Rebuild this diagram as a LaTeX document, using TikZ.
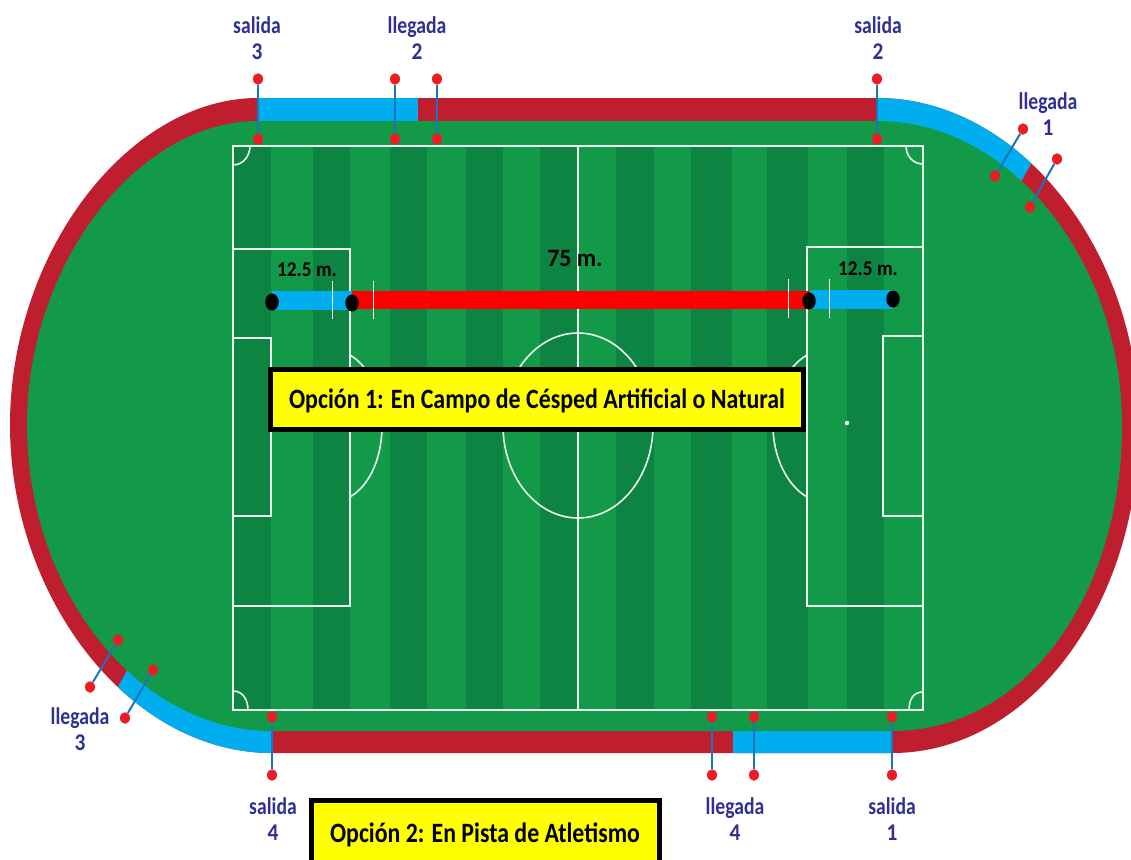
\documentclass[tikz,border=0pt]{standalone}
\usepackage{fontspec}
\setmainfont{Carlito}
\usetikzlibrary{shapes.geometric}
\definecolor{grasslight}{RGB}{18,154,73}
\definecolor{grassdark}{RGB}{14,132,67}
\definecolor{trackred}{RGB}{190,30,45}
\definecolor{trackblue}{RGB}{0,174,239}
\definecolor{labelblue}{RGB}{46,49,146}
\definecolor{pinline}{RGB}{27,117,188}
\definecolor{pinred}{RGB}{237,28,36}
\definecolor{boxyellow}{RGB}{255,255,0}
\definecolor{barred}{RGB}{255,0,0}
\newcommand{\cond}[2]{\scalebox{#1}[1]{#2}}
\tikzset{
  pin dot/.style={shape=ellipse,fill=pinred,draw=none,minimum width=10pt,minimum height=11.5pt,inner sep=0pt},
  pin line/.style={draw=pinline,line width=2pt},
  pitch line/.style={draw=white!92!grasslight,line width=1.6pt},
  black dot/.style={shape=ellipse,fill=black,draw=none,minimum width=13.5pt,minimum height=17pt,inner sep=0pt},
  tick line/.style={draw=white,line width=1pt},
  place label/.style={text=labelblue,font=\fontsize{24}{26}\selectfont\bfseries,align=center,inner sep=0pt},
  dim label/.style={text=black,font=\fontsize{21}{24}\selectfont\bfseries,inner sep=0pt},
  option box/.style={fill=boxyellow,draw=black,line width=5pt,inner sep=0pt,font=\fontsize{28}{32}\selectfont\bfseries,text=black}
}
\newcommand{\outerpath}{(258,98) -- (877,98) .. controls (1021,98) and (1139,253) .. (1139,425) .. controls (1139,606) and (1029,753) .. (892,753) -- (272,753) .. controls (128,753) and (10,596) .. (10,425) .. controls (10,253) and (128,98) .. (258,98) -- cycle}
\newcommand{\innerpath}{(258,121) -- (877,121) .. controls (1012,121) and (1122,262) .. (1122,425) .. controls (1122,593) and (1027,731) .. (892,731) -- (272,731) .. controls (137,731) and (27,590) .. (27,425) .. controls (27,265) and (137,121) .. (258,121) -- cycle}
\begin{document}
\begin{tikzpicture}[x=1pt,y=-1pt]
\useasboundingbox (0,0) rectangle (1131,859);
\fill[white] (0,0) rectangle (1131,859);
\begin{scope}
\clip (0,0) rectangle (1131,859);
% track
\fill[trackred] \outerpath;
\begin{scope}
\clip \outerpath;
\fill[trackblue] (258,90) rectangle (418,125);
\fill[trackblue] (733,725) rectangle (892,760);
\fill[trackblue] (877,60) -- (1092,60) -- (1003,212) -- (877,212) -- cycle;
\fill[trackblue] (272,800) -- (56,800) -- (170,592) -- (272,592) -- cycle;
\end{scope}
\fill[grasslight] \innerpath;
% stripes
\foreach \a/\b in {233/271,313/350,390/427,466/503,540/578,616/654,691/732,767/808,847/884}
  \fill[grassdark] (\a,146) rectangle (\b,710);
% pitch
\draw[pitch line] (233,146) rectangle (923,710);
\draw[pitch line] (578,146) -- (578,710);
\draw[pitch line] (233,249) rectangle (350,606);
\draw[pitch line] (807,247) rectangle (923,606);
\draw[pitch line] (233,338) rectangle (271,516);
\draw[pitch line] (883,336) rectangle (923,516);
\draw[pitch line] (578,425.5) ellipse [x radius=75,y radius=92.5];
\draw[pitch line] (350,355) .. controls (372,368) and (382,398) .. (382,426) .. controls (382,454) and (372,484) .. (350,497);
\draw[pitch line] (807,355) .. controls (785,368) and (773,398) .. (773,426) .. controls (773,454) and (785,484) .. (807,497);
\draw[pitch line] (250,146) .. controls (250,156) and (243,165) .. (233,165);
\draw[pitch line] (906,146) .. controls (906,156) and (913,164) .. (923,164);
\draw[pitch line] (248,710) .. controls (248,700) and (243,691) .. (233,691);
\draw[pitch line] (909,710) .. controls (909,700) and (913,692) .. (923,692);
\fill[white] (847,423) circle (2.2);
\end{scope}
% distance bars
\fill[trackblue] (272,291) rectangle (352,310);
\fill[trackblue] (810,290) rectangle (893,309);
\fill[barred] (352,291) rectangle (810,309);
\draw[tick line] (332,281) -- (332,319);
\draw[tick line] (373,281) -- (373,319);
\draw[tick line] (788,279) -- (788,318);
\draw[tick line] (829,279) -- (829,318);
\node[black dot] (d1) at (272,302) {};
\node[black dot] (d2) at (352,303) {};
\node[black dot] (d3) at (809,301) {};
\node[black dot] (d4) at (893,299) {};
\node[dim label] (m1) at (307,270) {\cond{.92}{12.5 m.}};
\node[dim label] (m2) at (868,269) {\cond{.92}{12.5 m.}};
\node[dim label,font=\fontsize{25}{28}\selectfont\bfseries] (m3) at (575,258) {\cond{.95}{75 m.}};
% pins
\foreach \n/\xa/\ya/\xb/\yb in {a/258/79/258/139,b/395/79/395/139,c/437/79/437/139,e/877/79/877/139,
   f/1023/129/995/176,g/1057/159/1030/207,h/118/640/90/687,i/153/670/125/718,
   j/272/717/272/775,k/712/717/712/775,l/754/717/754/775,n/892/717/892/775}{
  \node[pin dot] (\n1) at (\xa,\ya) {};
  \node[pin dot] (\n2) at (\xb,\yb) {};
  \draw[pin line] (\n1) -- (\n2);
}
% labels
\node[place label] (s3) at (257,38) {\cond{.82}{salida}\\\cond{.89}{3}};
\node[place label] (l2) at (417,38) {\cond{.82}{llegada}\\\cond{.89}{2}};
\node[place label] (s2) at (878,38) {\cond{.82}{salida}\\\cond{.89}{2}};
\node[place label] (l1) at (1048,114) {\cond{.82}{llegada}\\\cond{.89}{1}};
\node[place label] (l3) at (80,729) {\cond{.82}{llegada}\\\cond{.89}{3}};
\node[place label] (s4) at (273,819) {\cond{.82}{salida}\\\cond{.89}{4}};
\node[place label] (l4) at (735,819) {\cond{.82}{llegada}\\\cond{.89}{4}};
\node[place label] (s1) at (892,819) {\cond{.82}{salida}\\\cond{.89}{1}};
% option boxes
\node[option box,minimum width=533pt,minimum height=60pt] (o1) at (536.5,399) {};
\node[font=\fontsize{28}{32}\selectfont\bfseries,text=black,inner sep=0pt] (o1t) at (537,401) {\cond{.854}{Opción 1: En Campo de Césped Artificial o Natural}};
\begin{scope}
\clip (0,0) rectangle (1131,859);
\node[option box,minimum width=348pt,minimum height=76pt] (o2) at (485,838) {};
\end{scope}
\node[font=\fontsize{28}{32}\selectfont\bfseries,text=black,inner sep=0pt] (o2t) at (485,835) {\cond{.851}{Opción 2: En Pista de Atletismo}};
\end{tikzpicture}
\end{document}
